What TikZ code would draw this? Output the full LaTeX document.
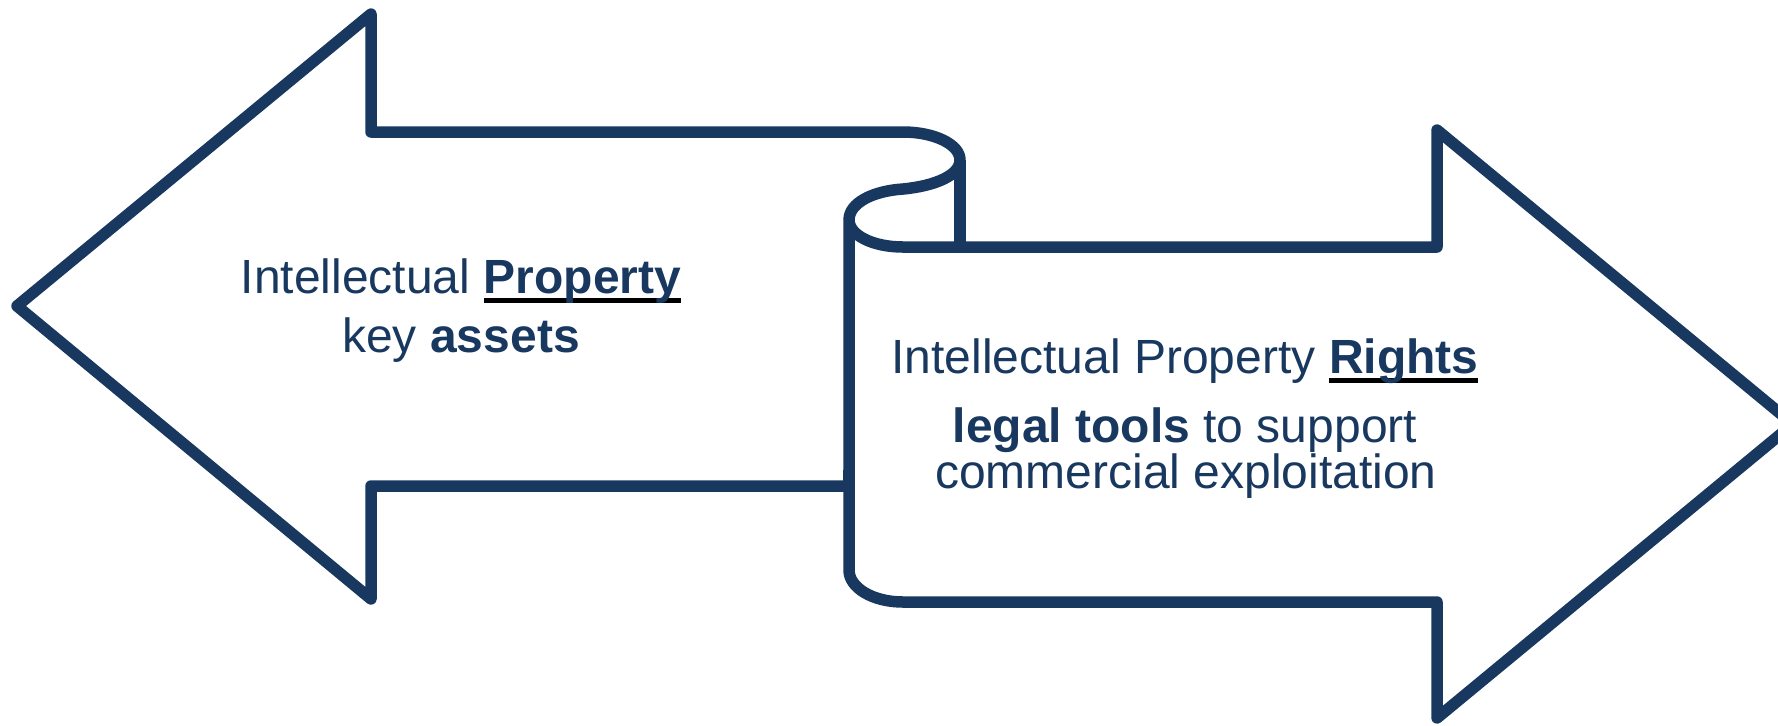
\documentclass[tikz,border=0pt]{standalone}
\usepackage{fontspec}
\setmainfont{Liberation Sans}
\definecolor{navy}{RGB}{24,56,96}
\newcommand\ulw[1]{\setbox0\hbox{#1}\rlap{\color{black}\rule[-5pt]{\wd0}{2.6pt}}\box0}
\tikzset{
  outline/.style={draw=navy, line width=5.75pt, line join=round, fill=white},
  rollline/.style={draw=navy, line width=5.75pt},
  txt/.style={text=navy, inner sep=0pt, anchor=base, font=\fontsize{24}{28}\selectfont}
}
\begin{document}
\begin{tikzpicture}[x=0.5pt, y=-0.5pt]
\useasboundingbox (0,0) rectangle (1778,725);
\fill[white] (0,0) rectangle (1778,725);
% scroll-shaped double arrow
\path[outline] (849,486) -- (371,486) -- (371,599) -- (17,306) -- (371,14) -- (371,132) -- (903,132)
  .. controls (934.5,132) and (960,144.5) .. (960,160)
  .. controls (960,175.5) and (934.5,186) .. (903,189)
  .. controls (872.6,191) and (849,203) .. (849,220)
  -- (849,570)
  .. controls (849,587.7) and (872.6,602) .. (903,602)
  -- (1437,602) -- (1437,718) -- (1793,424) -- (1437,130) -- (1437,247) -- (903,247)
  .. controls (872.6,247) and (849,235) .. (849,220);
\draw[rollline] (960,160) -- (960,247);
\draw[rollline] (849,486) -- (849,470);
% texts
\node[txt] (l1) at (461,293) {Intellectual \ulw{\textbf{Property}}};
\node[txt] (l2) at (461,352) {key \textbf{assets}};
\node[txt] (r1) at (1185,373) {Intellectual Property \ulw{\textbf{Rights}}};
\node[txt] (r2) at (1185,442) {\textbf{legal tools} to support};
\node[txt] (r3) at (1186,488) {commercial exploitation};
\end{tikzpicture}
\end{document}
